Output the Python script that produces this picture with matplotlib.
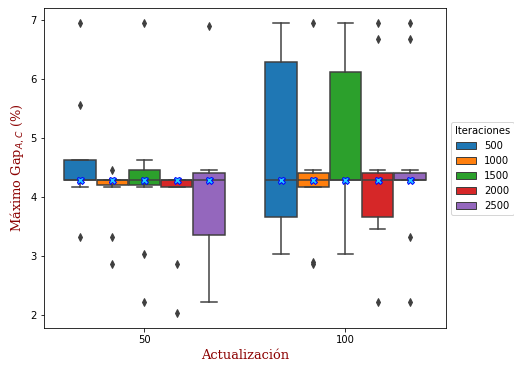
import matplotlib
matplotlib.use("Agg")
import matplotlib.pyplot as plt
import matplotlib.patches as mpatches

# Kennwerte je Box: Reihenfolge der Iterationen innerhalb jeder Aktualisierung
actualizaciones = ["50", "100"]
iteraciones = ["500", "1000", "1500", "2000", "2500"]
colores = ["#1f77b4", "#ff7f0e", "#2ca02c", "#d62728", "#9467bd"]

medianas = [[4.29, 4.29, 4.29, 4.29, 4.29],
            [4.29, 4.29, 4.29, 4.29, 4.29]]
q1 = [[4.29, 4.20, 4.20, 4.17, 3.35],
      [3.66, 4.17, 4.29, 3.66, 4.29]]
q3 = [[4.62, 4.29, 4.45, 4.29, 4.41],
      [6.29, 4.41, 6.12, 4.41, 4.41]]
bigote_inf = [[4.17, 4.17, 4.17, 4.17, 2.22],
              [3.03, 4.17, 3.03, 3.46, 4.29]]
bigote_sup = [[4.62, 4.29, 4.62, 4.29, 4.45],
              [6.95, 4.45, 6.95, 4.45, 4.45]]
medias = [[4.29, 4.29, 4.29, 4.29, 4.29],
          [4.29, 4.29, 4.29, 4.29, 4.29]]
atipicos = [[[6.95, 5.56, 3.33], [4.45, 3.33, 2.86], [6.95, 3.03, 2.22],
             [2.86, 2.03], [6.90]],
            [[], [6.95, 2.90, 2.86], [], [6.95, 6.67, 2.22],
             [6.95, 6.67, 3.33, 2.22]]]

GRIS = "#3f3f3f"
ANCHO = 0.8

fig = plt.figure(figsize=(514 / 72, 369 / 72), dpi=72)
ax = fig.add_axes([0.0856, 0.111, 0.782, 0.867])

n = len(iteraciones)
paso = ANCHO / n
for i, act in enumerate(actualizaciones):
    for j, it in enumerate(iteraciones):
        pos = i - ANCHO / 2 + paso / 2 + j * paso
        stats = [dict(med=medianas[i][j], q1=q1[i][j], q3=q3[i][j],
                      whislo=bigote_inf[i][j], whishi=bigote_sup[i][j],
                      mean=medias[i][j], fliers=atipicos[i][j])]
        ax.bxp(stats, positions=[pos], widths=paso * 0.98, patch_artist=True,
               showmeans=True, manage_ticks=False,
               boxprops=dict(facecolor=colores[j], edgecolor=GRIS, linewidth=1.5),
               medianprops=dict(color=GRIS, linewidth=1.5),
               whiskerprops=dict(color=GRIS, linewidth=1.5),
               capprops=dict(color=GRIS, linewidth=1.5),
               flierprops=dict(marker="d", markerfacecolor=GRIS,
                               markeredgecolor=GRIS, markersize=5),
               meanprops=dict(marker="X", markerfacecolor="#22ccff",
                              markeredgecolor="blue", markersize=7))

ax.set_xlim(-0.5, len(actualizaciones) - 0.5)
ax.set_xticks(range(len(actualizaciones)))
ax.set_xticklabels(actualizaciones)
ax.margins(y=0.05)

ax.set_xlabel("Actualización", family="serif", fontsize=13, color="darkred")
ax.set_ylabel(r"Máximo Gap$_{A,C}$ (%)", family="serif", fontsize=13,
              color="darkred")

handles = [mpatches.Patch(facecolor=c, edgecolor=GRIS, label=l)
           for c, l in zip(colores, iteraciones)]
ax.legend(handles=handles, title="Iteraciones", loc="center left",
          bbox_to_anchor=(1, 0.5))

fig.savefig("out.png", dpi=72)
